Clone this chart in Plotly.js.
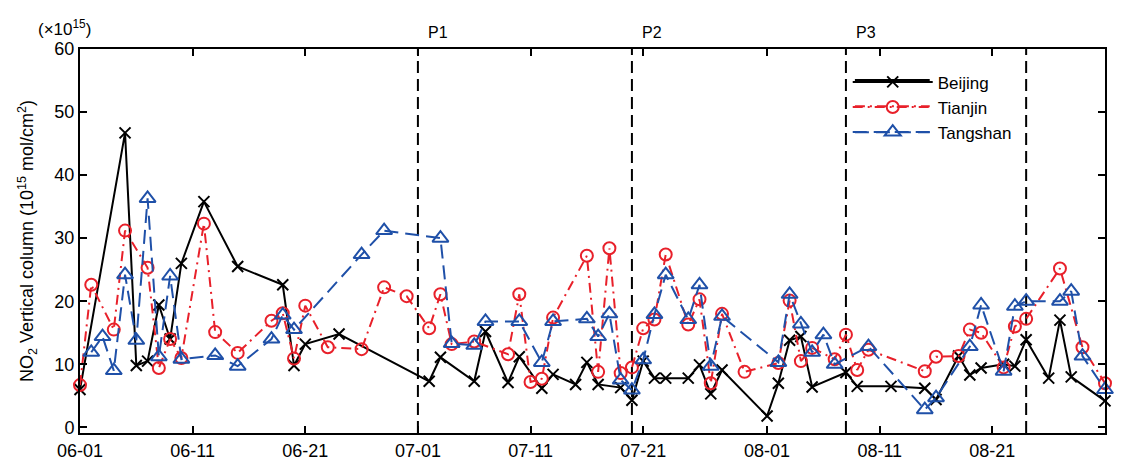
<!DOCTYPE html>
<html>
<head>
<meta charset="utf-8">
<script src="https://cdn.plot.ly/plotly-3.0.1.min.js"></script>
<style>html,body{margin:0;padding:0;background:#fff;}#chart{width:1126px;height:462px;}</style>
</head>
<body>
<div id="chart"></div>
<script>
var YEAR = '2015-';
var beijingDates = ['06-01','06-05','06-06','06-07','06-08','06-09','06-10','06-12','06-15','06-19','06-20','06-21','06-24','07-02','07-03','07-06','07-07','07-09','07-10','07-12','07-13','07-15','07-16','07-17','07-19','07-20','07-21','07-22','07-23','07-25','07-26','07-27','07-28','08-01','08-02','08-03','08-04','08-05','08-08','08-09','08-12','08-15','08-16','08-18','08-19','08-20','08-22','08-23','08-24','08-26','08-27','08-28','08-31'];
var beijingValues = [6.0,46.7,9.8,10.5,19.4,14.0,26.0,35.8,25.5,22.6,9.8,13.2,14.8,7.3,11.1,7.3,15.2,7.1,11.2,6.2,8.4,6.8,10.3,6.8,6.3,4.3,10.5,7.8,7.8,7.8,9.9,5.3,9.1,1.8,7.0,13.8,14.4,6.4,8.7,6.5,6.5,6.2,4.4,11.3,8.3,9.4,10.0,9.7,13.9,7.8,17.0,8.0,4.2];

var tianjinDates = ['06-01','06-02','06-04','06-05','06-07','06-08','06-09','06-10','06-12','06-13','06-15','06-18','06-19','06-20','06-21','06-23','06-26','06-28','06-30','07-02','07-03','07-04','07-06','07-09','07-10','07-11','07-12','07-13','07-16','07-17','07-18','07-19','07-20','07-21','07-22','07-23','07-25','07-26','07-27','07-28','07-30','08-02','08-03','08-04','08-05','08-07','08-08','08-09','08-10','08-15','08-16','08-18','08-19','08-20','08-22','08-23','08-24','08-27','08-29','08-31'];
var tianjinValues = [6.7,22.6,15.5,31.2,25.3,9.4,14.0,11.0,32.3,15.1,11.8,16.9,18.1,10.9,19.3,12.7,12.4,22.2,20.8,15.7,21.1,13.2,13.6,11.6,21.1,7.2,7.7,17.4,27.2,8.8,28.4,8.6,9.5,15.7,17.1,27.4,16.3,20.3,7.0,18.0,8.8,10.2,20.1,10.5,12.6,10.8,14.7,9.1,12.3,8.9,11.2,11.3,15.5,15.0,9.5,16.0,17.2,25.2,12.7,7.0];

var tangshanDates = ['06-02','06-03','06-04','06-05','06-06','06-07','06-08','06-09','06-10','06-13','06-15','06-18','06-19','06-20','06-26','06-28','07-03','07-04','07-06','07-07','07-10','07-12','07-13','07-16','07-17','07-18','07-19','07-20','07-21','07-22','07-23','07-25','07-26','07-27','07-28','08-02','08-03','08-04','08-05','08-06','08-07','08-10','08-15','08-16','08-19','08-20','08-22','08-23','08-24','08-27','08-28','08-29','08-31'];
var tangshanValues = [11.9,14.4,9.0,24.2,13.8,36.3,11.2,24.0,10.8,11.4,9.7,14.0,17.8,15.5,27.4,31.2,30.0,13.3,13.0,16.8,16.8,10.3,16.8,17.2,14.4,18.0,7.5,5.9,10.7,17.9,24.2,17.1,22.6,9.7,17.6,10.3,21.1,16.4,11.9,14.7,10.0,12.8,2.8,4.7,12.8,19.4,8.9,19.2,20.0,20.0,21.6,11.3,6.0];

var tickDates = ['06-01','06-11','06-21','07-01','07-11','07-21','08-01','08-11','08-21','08-31'];
var periodDates = ['07-01','07-20','08-08','08-24'];
var periodLabels = ['P1','P2','P3'];

var seriesNames = ['Beijing','Tianjin','Tangshan'];
var seriesColors = ['#000000','#e8202a','#1f50a8'];
var seriesDash = ['solid','10px,5px,2px,5px','14px,7px'];

function full(d){ return YEAR + d; }

var traces = [
  {name:seriesNames[0], x:beijingDates.map(full), y:beijingValues, type:'scatter', mode:'lines+markers', cliponaxis:false,
   line:{color:seriesColors[0], width:2, dash:seriesDash[0]},
   marker:{symbol:'x-thin-open', size:11, color:seriesColors[0], line:{color:seriesColors[0], width:2}}},
  {name:seriesNames[1], x:tianjinDates.map(full), y:tianjinValues, type:'scatter', mode:'lines+markers', cliponaxis:false,
   line:{color:seriesColors[1], width:2, dash:seriesDash[1]},
   marker:{symbol:'circle-open', size:12, color:seriesColors[1], line:{color:seriesColors[1], width:2}}},
  {name:seriesNames[2], x:tangshanDates.map(full), y:tangshanValues, type:'scatter', mode:'lines+markers', cliponaxis:false,
   line:{color:seriesColors[2], width:2, dash:seriesDash[2]},
   marker:{symbol:'triangle-up-open', size:14, color:seriesColors[2], line:{color:seriesColors[2], width:2}}}
];

var shapes = periodDates.map(function(d){
  return {type:'line', xref:'x', yref:'paper', x0:full(d), x1:full(d), y0:0, y1:1,
          line:{color:'#000000', width:2, dash:'12px,6px'}, layer:'below'};
});
// extended legend line samples
var legendRowY = [0.919, 0.851, 0.783];
legendRowY.forEach(function(yy, i){
  shapes.push({type:'line', xref:'paper', yref:'paper', x0:0.756, x1:0.829, y0:yy, y1:yy,
               line:{color:seriesColors[i], width:2, dash:seriesDash[i]}});
});

var annotations = periodLabels.map(function(t, i){
  return {text:t, xref:'x', yref:'paper', x:full(periodDates[i]), y:1.042, xanchor:'left', yanchor:'middle',
          xshift:8, showarrow:false, font:{size:16, color:'#000'}};
});
annotations.push({text:'(×10<sup>15</sup>)', xref:'paper', yref:'paper', x:-0.015, y:1.055,
                  xanchor:'center', yanchor:'middle', showarrow:false, font:{size:17, color:'#000'}});

var layout = {
  width:1126, height:462,
  margin:{l:80, r:21, t:49, b:29},
  paper_bgcolor:'#ffffff', plot_bgcolor:'#ffffff',
  font:{family:'Liberation Sans, Arial, sans-serif', size:16, color:'#000'},
  showlegend:true,
  legend:{x:0.749, y:0.96, xanchor:'left', yanchor:'top', bgcolor:'rgba(0,0,0,0)', borderwidth:0,
          font:{size:17}, itemwidth:80, tracegroupgap:0},
  xaxis:{type:'date', range:[full('06-01'), full('08-31')], tickvals:tickDates.map(full), ticktext:tickDates,
         showgrid:false, zeroline:false, showline:true, linecolor:'#000', linewidth:2, mirror:'ticks',
         ticks:'inside', ticklen:7, tickwidth:2, tickcolor:'#000', tickfont:{size:18}},
  yaxis:{range:[-0.9, 60], tickvals:[0,10,20,30,40,50,60], showgrid:false, zeroline:false,
         showline:true, linecolor:'#000', linewidth:2, mirror:'ticks', ticks:'inside', ticklen:7,
         tickwidth:2, tickcolor:'#000', tickfont:{size:18},
         title:{text:'NO<sub>2</sub> Vertical column (10<sup>15</sup> mol/cm<sup>2</sup>)', font:{size:18}, standoff:16}},
  shapes:shapes,
  annotations:annotations
};

Plotly.newPlot('chart', traces, layout, {displayModeBar:false, staticPlot:true});
</script>
</body>
</html>
